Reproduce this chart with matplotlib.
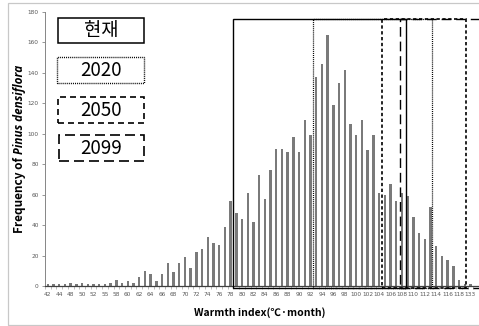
import matplotlib
matplotlib.use("Agg")
import matplotlib.pyplot as plt
from matplotlib.patches import Rectangle
import numpy as np

plt.rcParams['lines.scale_dashes'] = False

# Warmth index classes (x categories) and the pine frequency in each class
categories = ["42", "43", "44", "46", "48", "49", "50", "51", "52", "53", "55", "56"] + \
             [str(v) for v in range(58, 120)] + ["133"]
frequency = [1, 1, 1, 1, 2, 1, 2, 1, 1, 1, 1, 2,
             4, 2, 3, 2, 6, 10, 8, 3, 8, 15, 9, 15, 19, 12, 22, 24, 32, 28, 27, 39,
             56, 48, 44, 61, 42, 73, 57, 76, 90, 90, 88, 98, 88, 109, 99, 137, 146, 165,
             119, 133, 142, 106, 99, 109, 89, 99,
             61, 60, 67, 56, 61, 59, 45, 35, 31, 52, 26, 20, 17, 13, 4, 1, 1]
tick_labels = categories[::2]

# Suitable-range boxes for each period: (label, left, right) in category positions
periods = ["현재", "2020", "2050", "2099"]
range_left = [32.48, 46.44, 58.47, 61.67]
range_right = [62.72, 67.27, 73.2, 76.6]
range_top = 175.5
y_ticks = list(range(0, 181, 20))

W, H = 479, 326
fig = plt.figure(figsize=(W / 100, H / 100), dpi=100)
fig.patch.set_facecolor("white")

styles = {
    "현재": dict(linestyle="-", lw=1.0),
    "2020": dict(linestyle=(0, (0.7, 0.7)), lw=0.9),
    "2050": dict(linestyle=(0, (2.4, 1.8)), lw=1.2),
    "2099": dict(linestyle=(0, (7.0, 3.5)), lw=1.0),
}

ax = fig.add_axes([45 / W, 40 / H, 1 - 45 / W, 274.3 / H])
x = np.arange(len(categories))
ax.bar(x, frequency, width=0.42, color="#7a7a7a", zorder=2)
ax.set_xlim(-0.5, len(categories) + 0.5)
ax.set_ylim(0, 180)

ax.set_xticks(x[::2])
ax.set_xticklabels(tick_labels, fontsize=4.2, color="#595959")
ax.set_xticks(np.arange(-0.5, len(categories) + 0.5, 1), minor=True)
ax.tick_params(axis="x", which="major", length=0, pad=4.5)
ax.tick_params(axis="x", which="minor", length=1.8, color="#a0a0a0", width=0.5)
ax.set_yticks(y_ticks)
ax.set_yticklabels([str(v) for v in y_ticks], fontsize=4.2, color="#595959")
ax.tick_params(axis="y", length=2.5, color="#868686", width=0.6, pad=2)

for side in ("top", "right"):
    ax.spines[side].set_visible(False)
ax.spines["left"].set_color("#868686")
ax.spines["left"].set_linewidth(0.7)
ax.spines["bottom"].set_color("#404040")
ax.spines["bottom"].set_linewidth(0.9)

for name, lft, rgt in zip(periods, range_left, range_right):
    st = styles[name]
    ax.add_patch(Rectangle((lft, -1.2), rgt - lft, range_top + 1.2, fill=False,
                           edgecolor="black", linewidth=st["lw"],
                           linestyle=st["linestyle"], clip_on=False, zorder=4))

# Key boxes at the upper left
key_boxes = [(58, 18.3, 144, 43.3), (57, 57, 144, 83.3), (58, 97.3, 144, 122.7), (59, 135, 144, 161)]
key_lw = {"현재": 1.1, "2020": 1.0, "2050": 1.2, "2099": 1.2}
key_ls = {"현재": "-", "2020": (0, (0.7, 0.7)), "2050": (0, (4.3, 2.9)), "2099": (0, (7.2, 3.6))}
for name, (x0, y0, x1, y1) in zip(periods, key_boxes):
    fig.add_artist(Rectangle((x0 / W, 1 - y1 / H), (x1 - x0) / W, (y1 - y0) / H,
                             transform=fig.transFigure, fill=False, edgecolor="black",
                             linewidth=key_lw[name], linestyle=key_ls[name]))
    fig.text((x0 + x1) / 2 / W, 1 - (y0 + y1) / 2 / H, name, ha="center", va="center",
             fontsize=13.5, family=["Noto Sans CJK KR", "DejaVu Sans"], fontweight="normal")

# Outer chart frame
fig.add_artist(Rectangle((8 / W, 1 / H), 1.2, 322 / H, transform=fig.transFigure,
                         fill=False, edgecolor="#c8c8c8", linewidth=0.9))

# Axis titles
fig.text(260 / W, 1 - 312.5 / H, "Warmth index(℃·month)", ha="center", va="center",
         fontsize=7.5, fontweight="bold", family=["Noto Sans CJK KR", "DejaVu Sans"])
t1 = fig.text(20 / W, 1 - 233 / H, "Frequency of", rotation=90, ha="center", va="bottom",
              fontsize=8.5, fontweight="bold", family=["Noto Sans CJK KR", "DejaVu Sans"])
fig.canvas.draw()
bb = t1.get_window_extent()
fig.text(20 / W, (bb.y1 + 3) / H, "Pinus densiflora", rotation=90, ha="center", va="bottom",
         fontsize=8.5, fontweight="bold", fontstyle="italic", family=["Open Sans", "DejaVu Sans"])

fig.savefig("out.png", dpi=100)
